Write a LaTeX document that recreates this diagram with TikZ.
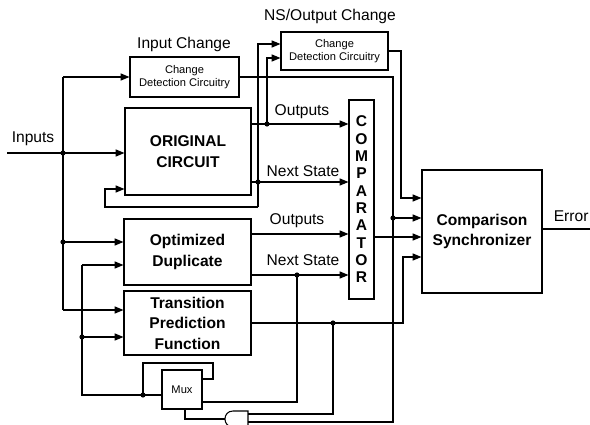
\documentclass[tikz,border=0pt]{standalone}
\usepackage{fontspec}
\setmainfont{Liberation Sans}
\usetikzlibrary{arrows.meta}

\begin{document}
\begin{tikzpicture}[x=0.03cm, y=-0.03cm, line width=0.9pt, >={Triangle[length=7.5pt,width=6pt]},
	blk/.style={draw, align=center, inner sep=0pt, font=\bfseries\fontsize{13.3}{17.5}\selectfont},
	cdc/.style={draw, align=center, inner sep=0pt, font=\fontsize{9.5}{11.5}\selectfont},
	lbl/.style={font=\fontsize{13.3}{16}\selectfont}]
		\useasboundingbox (0, 0) rectangle (590, 425);
		\node [blk, minimum width=3.78cm, minimum height=2.61cm] (orig) at (188, 151.5) {ORIGINAL\\CIRCUIT};
		\node [blk, minimum width=3.81cm, minimum height=1.98cm] (opt) at (187.5, 252) {Optimized\\Duplicate};
		\node [blk, minimum width=3.81cm, minimum height=1.92cm] (tpf) at (187.5, 323) {Transition\\Prediction\\Function};
		\node [blk, minimum width=0.75cm, minimum height=5.97cm, font=\bfseries\fontsize{13.3}{14.8}\selectfont] (comp) at (361.5, 199.5) {C\\O\\M\\P\\A\\R\\A\\T\\O\\R};
		\node [blk, minimum width=3.6cm, minimum height=3.69cm] (sync) at (482, 231.5) {Comparison\\Synchronizer};
		\node [cdc, minimum width=3.27cm, minimum height=1.2cm] (ichg) at (184.5, 77) {Change\\Detection Circuitry};
		\node [cdc, minimum width=3.21cm, minimum height=1.14cm] (nschg) at (334.5, 51) {Change\\Detection Circuitry};
		\node [cdc, minimum width=1.2cm, minimum height=1.17cm] (mux) at (182, 389.5) {Mux};
		\node [lbl] (linp) at (33, 139) {Inputs};
		\node [lbl] (lichg) at (184, 44) {Input Change};
		\node [lbl] (lnschg) at (330, 16) {NS/Output Change};
		\node [lbl] (lout) at (302, 112) {Outputs};
		\node [lbl] (lns) at (303, 171) {Next State};
		\node [lbl] (lout2) at (297, 221) {Outputs};
		\node [lbl] (lns2) at (303, 260) {Next State};
		\node [lbl, anchor=east, inner sep=0pt] (lerr) at (589, 216) {Error};
		\coordinate (in) at (7, 153);
		\coordinate (ij) at (63, 153);
		\coordinate (itop) at (63, 77);
		\coordinate (ibot) at (63, 310);
		\coordinate (ioj) at (63, 242);
		\coordinate (oj) at (267, 124);
		\coordinate (ot) at (267, 58);
		\coordinate (nj) at (258, 182);
		\coordinate (nt) at (258, 44);
		\coordinate (nb) at (258, 207);
		\coordinate (fb) at (105, 189);
		\coordinate (lo) at (300, 234);
		\coordinate (lnj) at (297, 275);
		\coordinate (lnb) at (297, 402);
		\coordinate (tj) at (333, 323);
		\coordinate (tc) at (403, 257);
		\coordinate (tb) at (333, 414);
		\coordinate (ic) at (393, 77);
		\coordinate (icj) at (393, 218);
		\coordinate (ib) at (393, 422);
		\coordinate (nc) at (401, 51);
		\coordinate (nc2) at (401, 198);
		\coordinate (co) at (400, 237);
		\coordinate (err) at (590, 229);
		\coordinate (st) at (82, 265);
		\coordinate (sj) at (82, 337);
		\coordinate (sb) at (82, 395);
		\coordinate (mj) at (143, 395);
		\coordinate (ml) at (213, 363);
		\coordinate (mo) at (213, 379);
		\coordinate (mb) at (185, 419);
		\coordinate (gtip) at (225, 419);
		\coordinate (gr) at (248, 419);
		\draw (in) -- (ij);
		\draw [->] (ij) -- (ij -| orig.west);
		\draw [->] (itop) -- (ichg.west);
		\draw (itop) -- (ibot);
		\draw [->] (ioj) -- (ioj -| opt.west);
		\draw [->] (ibot) -- (ibot -| tpf.west);
		\draw [->] (oj -| orig.east) -- (oj -| comp.west);
		\draw [->] (oj) -- (ot) -- (ot -| nschg.west);
		\draw [->] (nj -| orig.east) -- (nj -| comp.west);
		\draw [->] (nb) -- (nt) -- (nt -| nschg.west);
		\draw [->] (nb) -| (fb) -- (fb -| orig.west);
		\draw [->] (lo -| opt.east) -- (lo -| comp.west);
		\draw [->] (lnj -| opt.east) -- (lnj -| comp.west);
		\draw (lnj) -- (lnb) -- (lnb -| mux.east);
		\draw [->] (tj -| tpf.east) -| (tc) -- (tc -| sync.west);
		\draw (tj) -- (tb) -- (tb -| gr);
		\draw (ichg.east) -- (ic) -- (ib) -- (ib -| gr);
		\draw [->] (icj) -- (icj -| sync.west);
		\draw [->] (nschg.east) -- (nc) -- (nc2) -- (nc2 -| sync.west);
		\draw [->] (co -| comp.east) -- (co -| sync.west);
		\draw (err -| sync.east) -- (err);
		\draw [->] (st) -- (st -| opt.west);
		\draw [->] (sj) -- (sj -| tpf.west);
		\draw (st) -- (sb) -- (mj) -- (mj -| mux.west);
		\draw (mj) |- (ml) -- (mo) -- (mo -| mux.east);
		\draw (mux.south -| mb) -- (mb) -- (gtip);
		\draw (gr) ++(0, -8) -- (233, 411) .. controls (222.3, 411) and (222.3, 427) .. (233, 427) -- (248, 427) -- cycle;
		\foreach \p in {ij, ioj, oj, nj, lnj, tj, icj, sj, mj}
			\fill (\p) circle [radius=2.2pt];
	\end{tikzpicture}
\end{document}
